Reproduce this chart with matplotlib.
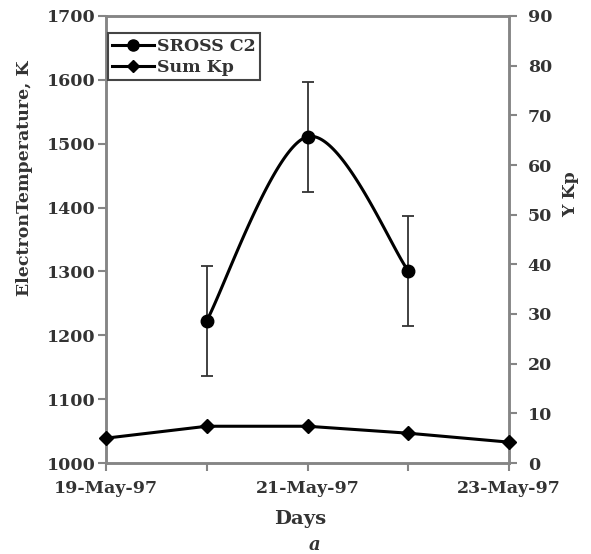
import matplotlib
matplotlib.use("Agg")
import matplotlib.pyplot as plt
import numpy as np
from matplotlib.lines import Line2D

days = ['19-May-97', '20-May-97', '21-May-97', '22-May-97', '23-May-97']
tick_labels = ['19-May-97', '', '21-May-97', '', '23-May-97']
sross_days = ['20-May-97', '21-May-97', '22-May-97']
sross_te = [1223, 1511, 1301]
sross_err = [86, 86, 86]
kp_sum = [5.0, 7.4, 7.4, 6.0, 4.2]

plt.rcParams['font.family'] = ['DejaVu Serif']
plt.rcParams['font.weight'] = 'bold'

GREY = '#858585'
TXT = '#333333'
FS = 12.5

W, H = 591, 554
fig = plt.figure(figsize=(W / 100, H / 100), dpi=100)
ax = fig.add_axes([106 / W, 1 - 463 / H, (509 - 106) / W, (463 - 16) / H])
ax2 = ax.twinx()

x_all = np.arange(len(days))
xs = np.array([days.index(d) for d in sross_days], dtype=float)
ys = np.array(sross_te, dtype=float)


# Excel-like smoothed line (Bezier through the data points)
def smooth(px, py, n=60):
    P = np.column_stack([px, py])
    out = []
    for i in range(len(P) - 1):
        p0 = P[i - 1] if i > 0 else P[i]
        p1 = P[i]
        p2 = P[i + 1]
        p3 = P[i + 2] if i + 2 < len(P) else P[i + 1]
        b1 = p1 + (p2 - p0) / 6
        b2 = p2 - (p3 - p1) / 6
        t = np.linspace(0, 1, n)[:, None]
        seg = ((1 - t) ** 3) * p1 + 3 * ((1 - t) ** 2) * t * b1 + 3 * (1 - t) * t ** 2 * b2 + t ** 3 * p2
        out.append(seg)
    c = np.vstack(out)
    return c[:, 0], c[:, 1]


cx, cy = smooth(xs, ys)
ax.plot(cx, cy, color='black', lw=2.2, zorder=3)
ax.errorbar(xs, ys, yerr=sross_err, fmt='o', color='black', ms=9,
            ecolor='#333333', elinewidth=1.3, capsize=4, capthick=1.3, zorder=4)

ax2.plot(x_all, kp_sum, color='black', lw=2.2, marker='D', ms=7, zorder=3,
         clip_on=False)

ax.set_xlim(0, 4)
ax.set_ylim(1000, 1700)
ax.set_yticks(np.arange(1000, 1701, 100))
ax.set_xticks(x_all)
ax.set_xticklabels(tick_labels)
ax2.set_ylim(0, 90)
ax2.set_yticks(np.arange(0, 91, 10))

for a in (ax, ax2):
    for s in a.spines.values():
        s.set_color(GREY)
        s.set_linewidth(1.8)
    a.tick_params(colors=GREY, labelcolor=TXT, width=1.5, length=5.5, labelsize=FS)

ax.tick_params(axis='y', pad=2)
ax.tick_params(axis='x', pad=7)
ax2.tick_params(axis='y', pad=8)

fig.text(25 / W, 1 - 178 / H, 'ElectronTemperature, K', fontsize=FS, fontweight='bold',
         color=TXT, rotation=90, ha='center', va='center')
fig.text(571 / W, 1 - 194 / H, 'Y Kp', fontsize=FS, fontweight='bold',
         color=TXT, rotation=90, ha='center', va='center')
fig.text(300 / W, 1 - 519 / H, 'Days', fontsize=14, fontweight='bold',
         color=TXT, ha='center', va='center')
fig.text(315 / W, 1 - 545 / H, 'a', fontsize=13, fontweight='bold', style='italic',
         color=TXT, ha='center', va='center')

handles = [Line2D([], [], color='black', lw=2.2, marker='o', ms=8),
           Line2D([], [], color='black', lw=2.2, marker='D', ms=6)]
leg = ax2.legend(handles, ['SROSS C2', 'Sum Kp'], loc='upper left',
                 bbox_to_anchor=(0.0, 0.965), fancybox=False, framealpha=1,
                 edgecolor='#444444', fontsize=FS, handlelength=2.4,
                 handletextpad=0.2, borderpad=0.25, labelspacing=0.25,
                 borderaxespad=0.1)
leg.get_frame().set_linewidth(1.5)
for t in leg.get_texts():
    t.set_color(TXT)

fig.savefig('out.png', dpi=100)
